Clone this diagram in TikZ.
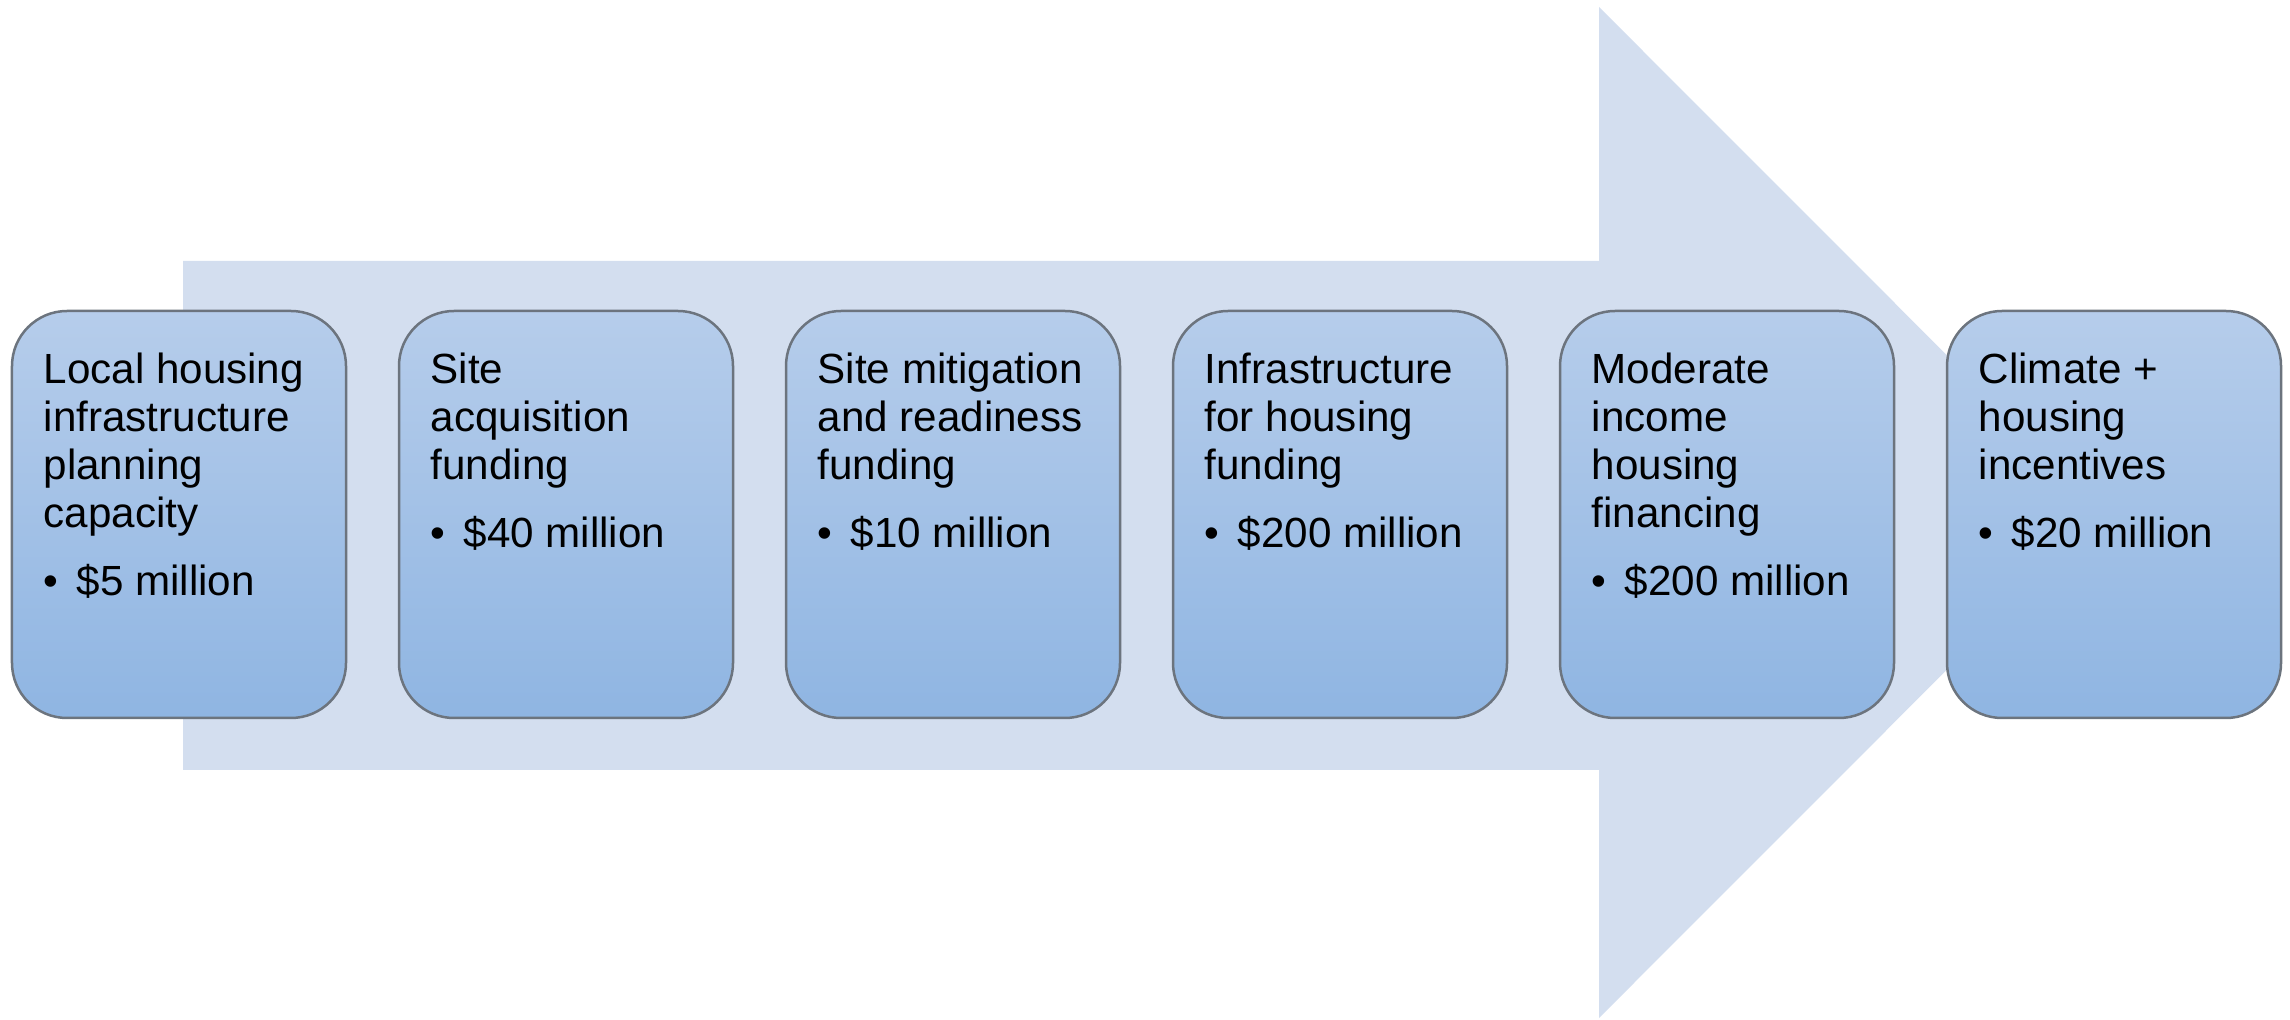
\documentclass[tikz,border=0pt]{standalone}
\usepackage{fontspec}
\setmainfont{Liberation Sans}
\usetikzlibrary{positioning}

\definecolor{arrowblue}{RGB}{211,222,239}
\definecolor{boxtop}{RGB}{182,205,235}
\definecolor{boxbottom}{RGB}{143,181,226}
\definecolor{boxline}{RGB}{108,116,126}

\newcommand{\amount}[1]{\makebox[0.33cm][l]{\textbullet}#1}

\begin{document}
\begin{tikzpicture}[stage/.style={rectangle,rounded corners=0.55cm,minimum width=3.34cm,minimum height=4.07cm,top color=boxtop,bottom color=boxbottom,draw=boxline,line width=.25mm,inner sep=0pt,outer sep=0pt},
    caption/.style={anchor=north west,align=left,inner sep=0pt,font=\fontsize{12}{13.7}\selectfont}]
        \useasboundingbox (0,0) rectangle (22.9,10.19);
        % big arrow behind the stages
        \fill[arrowblue] (1.83,2.49) -- (1.83,7.58) -- (15.99,7.58) -- (15.99,10.12) --
        (21.04,5.065) -- (15.99,0.01) -- (15.99,2.49) -- cycle;

        \node[stage] (s1) at (1.79,5.045) {};
        \node[stage,right=0.53cm of s1] (s2) {};
        \node[stage,right=0.53cm of s2] (s3) {};
        \node[stage,right=0.53cm of s3] (s4) {};
        \node[stage,right=0.53cm of s4] (s5) {};
        \node[stage,right=0.53cm of s5] (s6) {};

        \node[caption] (t1) at ([shift={(0.31,-0.41)}]s1.north west) {Local housing\\infrastructure\\planning\\capacity\\[5.7pt]\amount{\$5 million}};
        \node[caption] (t2) at ([shift={(0.31,-0.41)}]s2.north west) {Site\\acquisition\\funding\\[5.7pt]\amount{\$40 million}};
        \node[caption] (t3) at ([shift={(0.31,-0.41)}]s3.north west) {Site mitigation\\and readiness\\funding\\[5.7pt]\amount{\$10 million}};
        \node[caption] (t4) at ([shift={(0.31,-0.41)}]s4.north west) {Infrastructure\\for housing\\funding\\[5.7pt]\amount{\$200 million}};
        \node[caption] (t5) at ([shift={(0.31,-0.41)}]s5.north west) {Moderate\\income\\housing\\financing\\[5.7pt]\amount{\$200 million}};
        \node[caption] (t6) at ([shift={(0.31,-0.41)}]s6.north west) {Climate +\\housing\\incentives\\[5.7pt]\amount{\$20 million}};
    \end{tikzpicture}
\end{document}
